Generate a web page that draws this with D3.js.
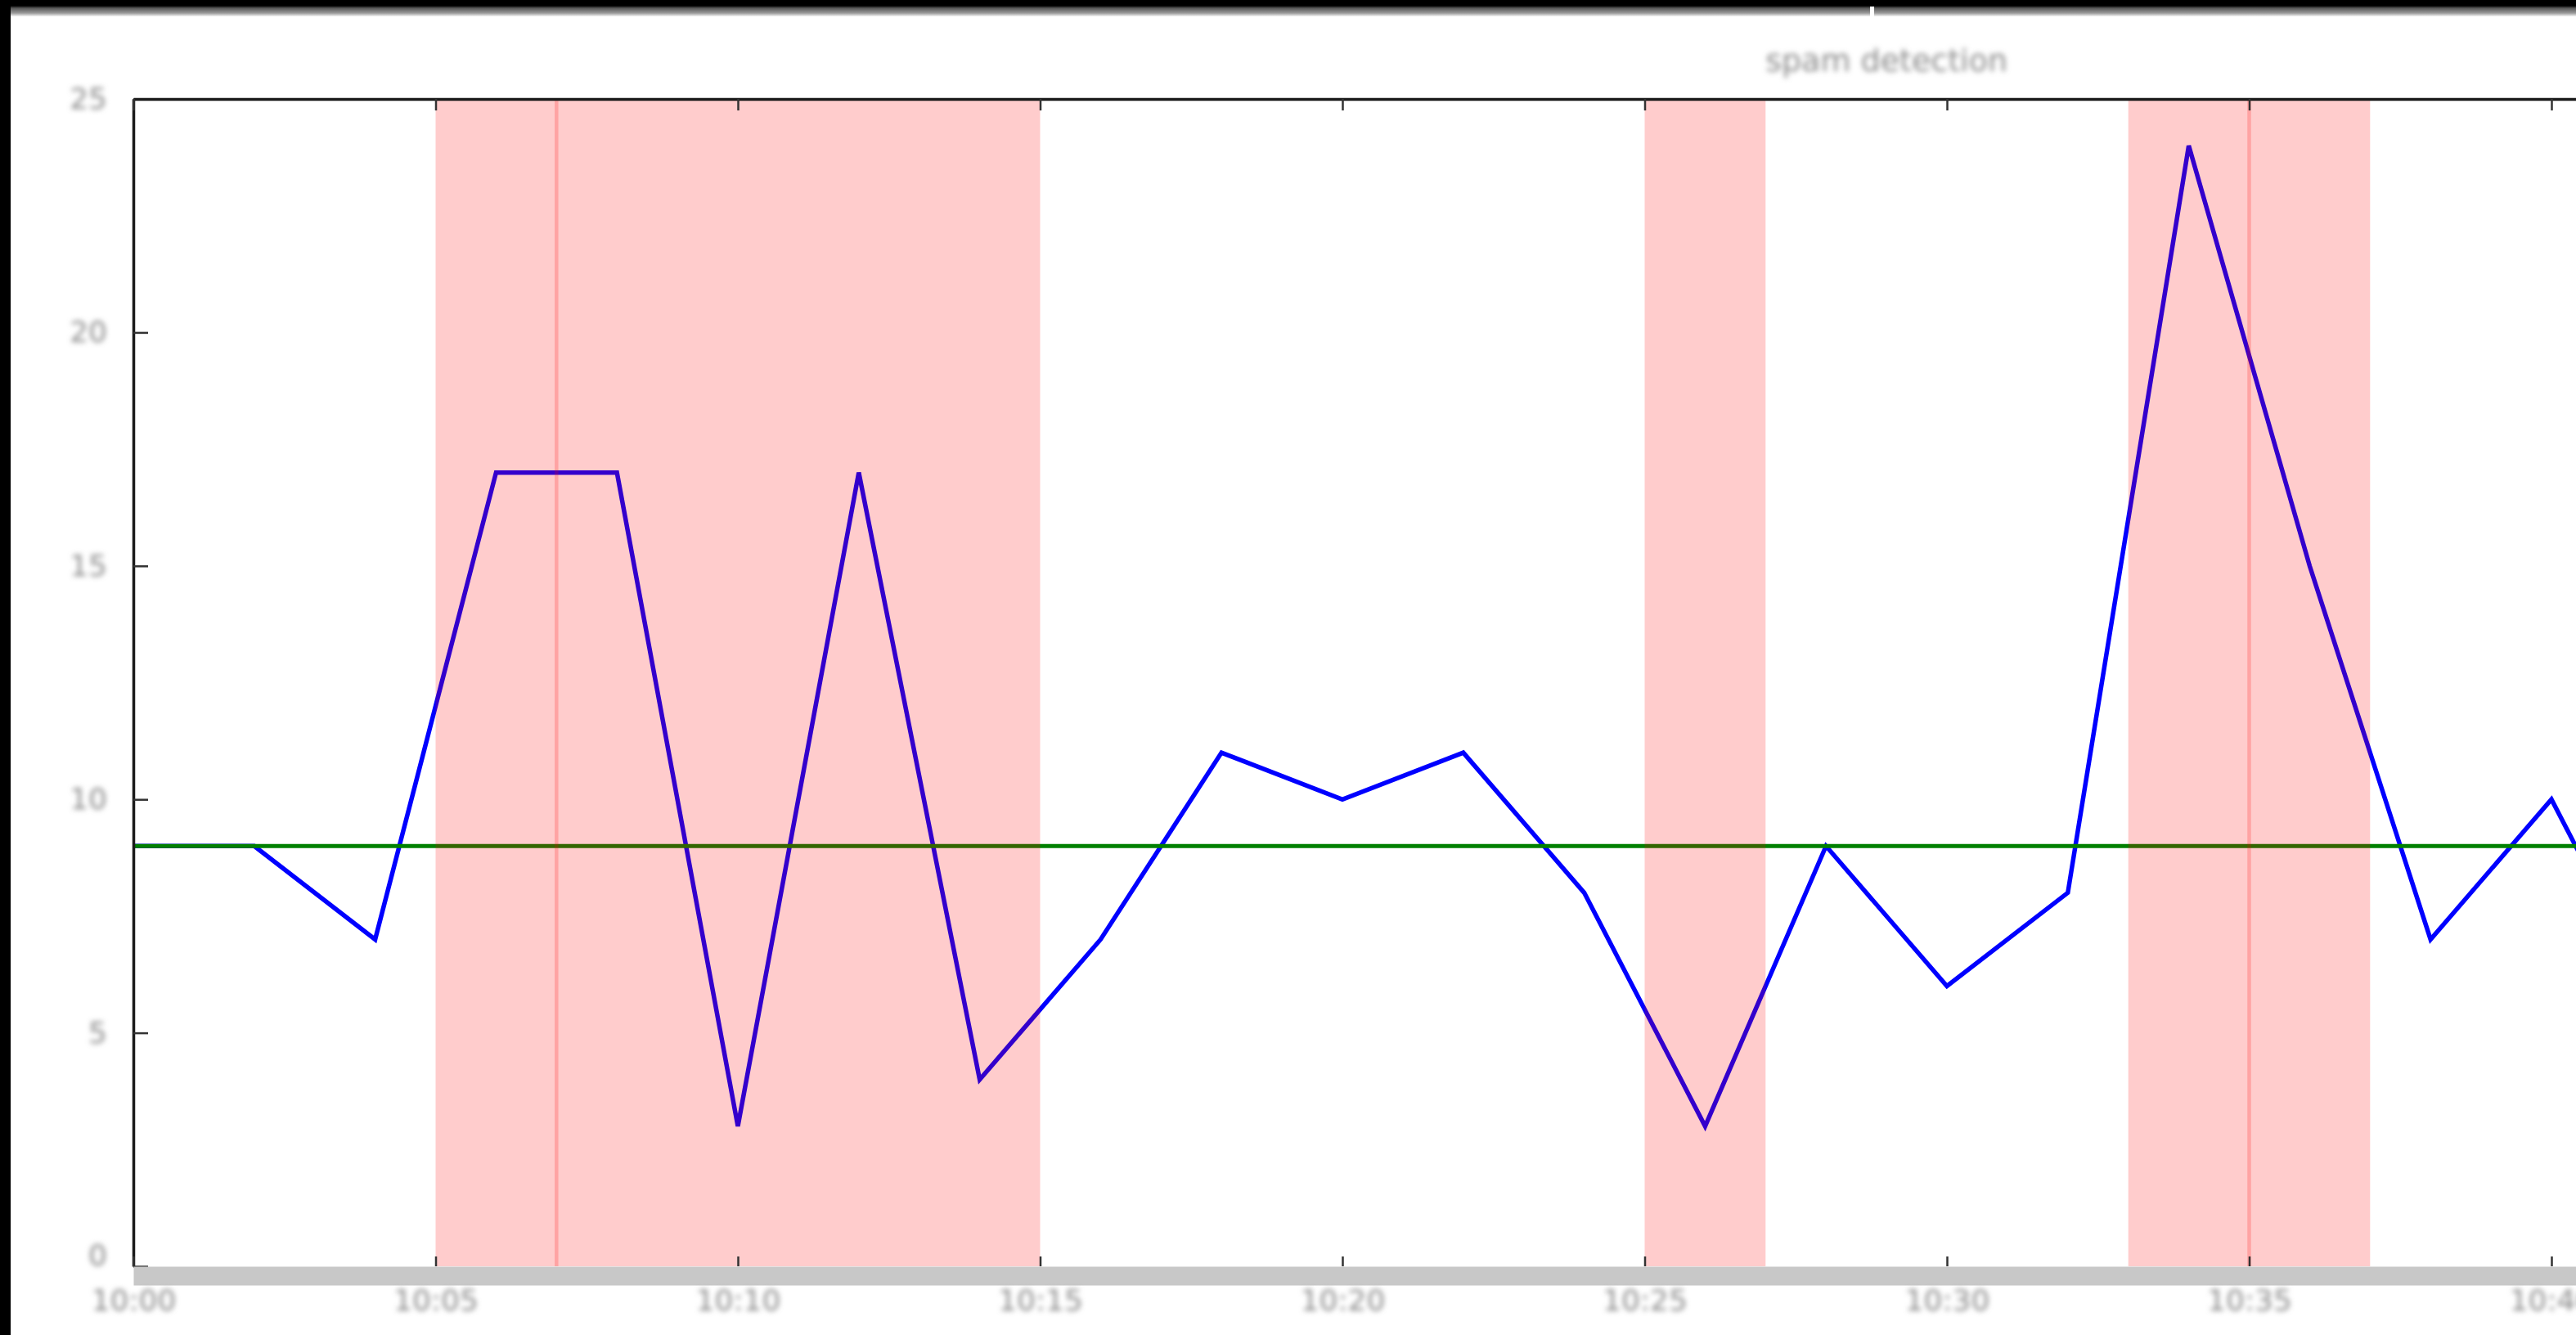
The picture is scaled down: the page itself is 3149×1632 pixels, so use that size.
<!DOCTYPE html>
<html>
<head>
<meta charset="utf-8">
<script src="https://cdn.jsdelivr.net/npm/d3@7"></script>
<style>
  html, body { margin: 0; padding: 0; background: #fff; overflow: hidden; }
  svg { display: block; }
  text { font-family: "DejaVu Sans", sans-serif; }
</style>
</head>
<body>
<svg id="chart" width="3149" height="1632"></svg>
<script>
// ---- data -------------------------------------------------------------
const startTime = "2021-06-01T10:00";
const endTime = "2021-06-01T10:58";
const sampleMinutes = 2;                       // one reading every 2 minutes
const values = [9, 9, 7, 17, 17, 3, 17, 4, 7, 11, 10, 11, 8, 3, 9, 6, 8, 24, 15, 7, 10, 5];
const meanValue = 9;
// flagged intervals [start, end]
const anomalySpans = [
  ["2021-06-01T10:05", "2021-06-01T10:15"],
  ["2021-06-01T10:25", "2021-06-01T10:27"],
  ["2021-06-01T10:33", "2021-06-01T10:37"]
];
// single-instant events
const anomalyEvents = ["2021-06-01T10:07", "2021-06-01T10:35"];
const yTicks = [0, 5, 10, 15, 20, 25];
const titleText = "spam detection";

// ---- layout -----------------------------------------------------------
const W = 3149, H = 1632;
const margin = { left: 163, top: 121 };
const plotH = 1548 - margin.top;
const stepPx = 147.8;                          // pixels per 2-minute step
const parse = d3.timeParse("%Y-%m-%dT%H:%M");
const t0 = parse(startTime), t1 = parse(endTime);
const plotW = stepPx * ((t1 - t0) / 60000) / sampleMinutes;

const svg = d3.select("#chart");
const defs = svg.append("defs");
const grad = defs.append("linearGradient").attr("id", "topbar").attr("x1", 0).attr("y1", 0).attr("x2", 0).attr("y2", 1);
grad.append("stop").attr("offset", "0%").attr("stop-color", "#000");
grad.append("stop").attr("offset", "35%").attr("stop-color", "#000");
grad.append("stop").attr("offset", "50%").attr("stop-color", "#5a5a5a");
grad.append("stop").attr("offset", "80%").attr("stop-color", "#9a9a9a");
grad.append("stop").attr("offset", "100%").attr("stop-color", "#f4f4f4");
defs.append("filter").attr("id", "soft").attr("x", "-20%").attr("y", "-40%").attr("width", "140%").attr("height", "180%")
  .append("feGaussianBlur").attr("stdDeviation", 3.2);
defs.append("clipPath").attr("id", "plotclip")
  .append("rect").attr("width", plotW).attr("height", plotH);

const x = d3.scaleTime().domain([t0, t1]).range([0, plotW]);
const y = d3.scaleLinear().domain([0, 25]).range([plotH, 0]);

const g = svg.append("g").attr("transform", `translate(${margin.left},${margin.top})`);

const series = values.map((v, i) => ({ t: d3.timeMinute.offset(t0, i * sampleMinutes), v }));

// ---- plot content -----------------------------------------------------
const plot = g.append("g").attr("clip-path", "url(#plotclip)");

plot.append("path")
  .datum(series)
  .attr("fill", "none")
  .attr("stroke", "#0000ff")
  .attr("stroke-width", 5.5)
  .attr("stroke-linejoin", "miter")
  .attr("d", d3.line().x(d => x(d.t)).y(d => y(d.v)));

plot.append("line")
  .attr("x1", 0).attr("x2", plotW)
  .attr("y1", y(meanValue)).attr("y2", y(meanValue))
  .attr("stroke", "#008000")
  .attr("stroke-width", 5);

plot.selectAll("rect.span")
  .data(anomalySpans)
  .join("rect")
  .attr("class", "span")
  .attr("x", d => x(parse(d[0])))
  .attr("width", d => x(parse(d[1])) - x(parse(d[0])))
  .attr("y", 0)
  .attr("height", plotH)
  .attr("fill", "#ff0000")
  .attr("fill-opacity", 0.2);

plot.selectAll("line.event")
  .data(anomalyEvents)
  .join("line")
  .attr("class", "event")
  .attr("x1", d => x(parse(d))).attr("x2", d => x(parse(d)))
  .attr("y1", 0).attr("y2", plotH)
  .attr("stroke", "#ff0000")
  .attr("stroke-opacity", 0.2)
  .attr("stroke-width", 4.5);

// ---- axes -------------------------------------------------------------
const tickEvery = d3.timeMinute.every(5);
const fmt = d3.timeFormat("%H:%M");

const yAxis = g.append("g")
  .call(d3.axisLeft(y).tickValues(yTicks).tickSize(-18).tickSizeOuter(0).tickPadding(32));
yAxis.select(".domain").attr("stroke", "#1a1a1a").attr("stroke-width", 3.5);
yAxis.selectAll(".tick line").attr("stroke", "#333").attr("stroke-width", 2.5);
yAxis.selectAll(".tick text")
  .attr("font-size", 36).attr("fill", "#8a8a8a").attr("filter", "url(#soft)");
// the baseline label sits just above the grey axis band
yAxis.selectAll(".tick text").filter(d => d === 0).attr("dy", "-0.05em");

const topAxis = g.append("g")
  .call(d3.axisTop(x).ticks(tickEvery).tickSize(-14).tickSizeOuter(0).tickFormat(""));
topAxis.select(".domain").attr("stroke", "#1a1a1a").attr("stroke-width", 3.5);
topAxis.selectAll(".tick line").attr("stroke", "#333").attr("stroke-width", 2.5);

const xAxis = g.append("g")
  .attr("transform", `translate(0,${plotH})`)
  .call(d3.axisBottom(x).ticks(tickEvery).tickFormat(fmt).tickSize(-12).tickSizeOuter(0).tickPadding(28));
xAxis.select(".domain")
  .attr("stroke", "#c8c8c8").attr("stroke-width", 23)
  .attr("transform", "translate(0,11.5)");
xAxis.selectAll(".tick line").attr("stroke", "#333").attr("stroke-width", 2.5);
xAxis.selectAll(".tick text")
  .attr("font-size", 36).attr("fill", "#8a8a8a").attr("filter", "url(#soft)");

// ---- title ------------------------------------------------------------
g.append("text")
  .attr("x", plotW / 2)
  .attr("y", -34)
  .attr("text-anchor", "middle")
  .attr("font-size", 38)
  .attr("fill", "#8a8a8a")
  .attr("filter", "url(#soft)")
  .text(titleText);

// ---- window frame -----------------------------------------------------
svg.append("rect").attr("x", 0).attr("y", 0).attr("width", W).attr("height", 20).attr("fill", "url(#topbar)");
svg.append("rect").attr("x", 0).attr("y", 0).attr("width", 13).attr("height", H).attr("fill", "#000");
svg.append("rect").attr("x", 2286).attr("y", 8).attr("width", 5).attr("height", 12).attr("fill", "#fff");
</script>
</body>
</html>
